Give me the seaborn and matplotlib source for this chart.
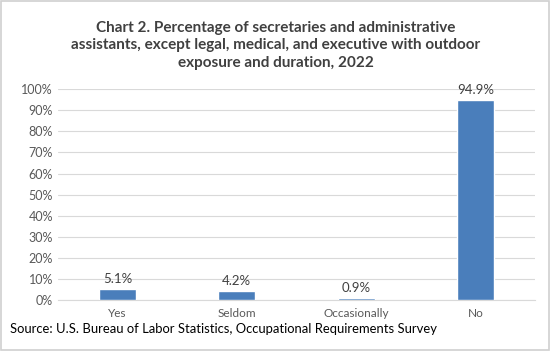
import matplotlib.pyplot as plt
import seaborn as sns
import pandas as pd
from matplotlib.patches import Rectangle
from matplotlib.ticker import FuncFormatter

# data
categories = ['Yes', 'Seldom', 'Occasionally', 'No']
percents = [5.1, 4.2, 0.9, 94.9]

df = pd.DataFrame({'exposure': categories, 'pct': percents})

sns.set_style('white')
plt.rcParams['font.family'] = ['Lato', 'DejaVu Sans']

fig = plt.figure(figsize=(5.51, 3.51), dpi=100)
ax = fig.add_axes([0.105, 0.145, 0.866, 0.601])

sns.barplot(data=df, x='exposure', y='pct', color='#4a7ebb', width=0.31,
            saturation=1, ax=ax, zorder=3)

ax.set_ylim(0, 100)
ax.set_yticks(range(0, 101, 10))
ax.yaxis.set_major_formatter(FuncFormatter(lambda v, p: f'{v:.0f}%'))
ax.grid(axis='y', color='#d9d9d9', linewidth=0.8, zorder=0)
ax.set_xlabel('')
ax.set_ylabel('')
for s in ['top', 'right', 'left']:
    ax.spines[s].set_visible(False)
ax.spines['bottom'].set_color('#d9d9d9')
ax.tick_params(axis='both', length=0, labelsize=9, labelcolor='#595959')
ax.tick_params(axis='x', pad=6, labelsize=8.5)

# value labels
for i, v in enumerate(percents):
    ax.text(i, v + 2, f'{v:.1f}%', ha='center', va='bottom', fontsize=9.5, color='#404040')

# title
fig.text(0.5, 0.94, 'Chart 2. Percentage of secretaries and administrative\n'
         'assistants, except legal, medical, and executive with outdoor\n'
         'exposure and duration, 2022',
         ha='center', va='top', fontsize=11, fontweight='bold', color='#404040',
         linespacing=1.3)

# source
fig.text(0.018, 0.063, 'Source: U.S. Bureau of Labor Statistics, Occupational Requirements Survey',
         ha='left', va='center', fontsize=9.4, color='black')

# border
fig.patches.append(Rectangle((0.002, 0.003), 0.995, 0.993, transform=fig.transFigure,
                             fill=False, edgecolor='#d0d0d0', linewidth=1.2))

plt.savefig('out.png', dpi=100)
